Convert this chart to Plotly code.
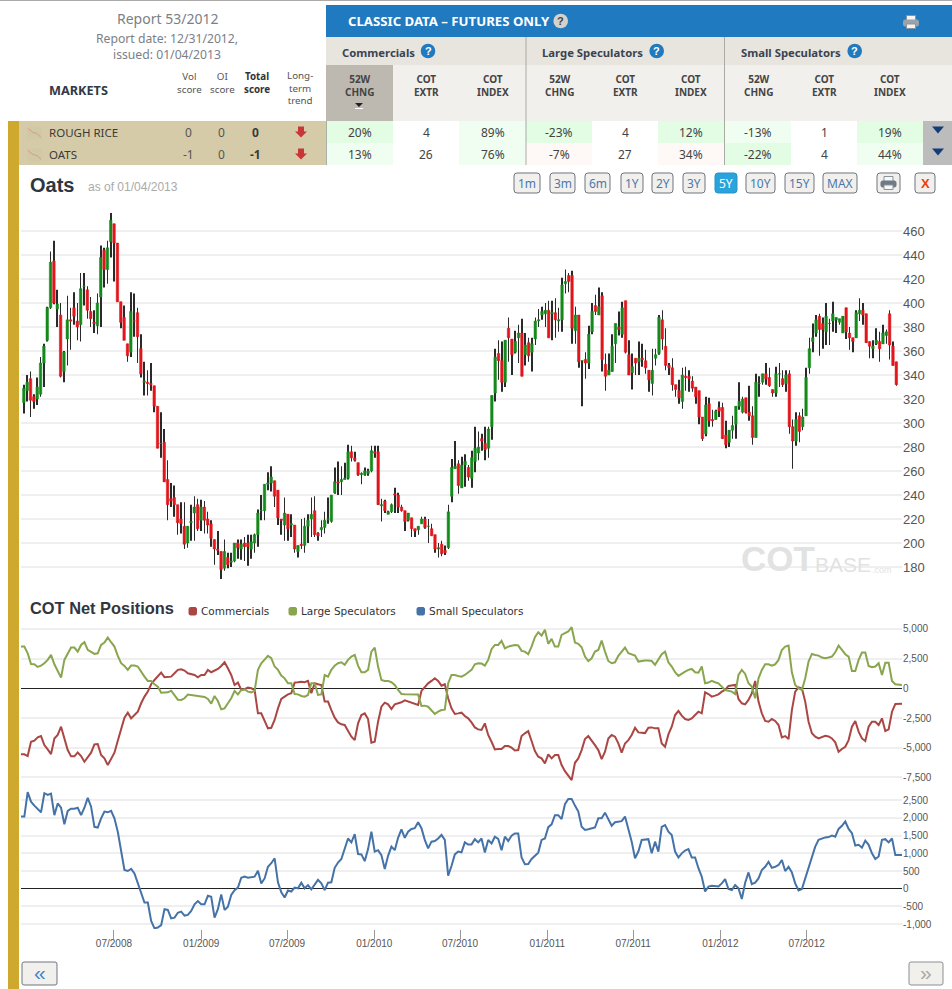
import numpy as np
import pandas as pd
import plotly.graph_objects as go

W, H = 952, 989

# weekly oats candles
candle_open = [
    317,327,337,322,320,324,350,369,396,435, 395,390,343,370,386,396,385,382,414,411,
    393,384,381,405,444,428,451,466,450,401, 388,366,359,385,392,362,334,334,333,331,
    314,283,284,253,237,238,232,220,214,200, 217,225,232,219,230,220,216,203,195,193,
    179,188,184,185,200,195,200,200,195,200, 207,227,227,249,250,252,244,220,215,224,
    215,215,193,199,198,214,220,227,208,211, 213,220,218,242,251,251,253,254,276,271,
    267,257,257,258,260,276,276,231,235,224, 226,241,240,230,227,219,221,212,211,216,
    220,214,212,207,195,199,194,196,239,262, 266,246,265,263,254,268,275,287,283,279,
    297,325,358,352,334,379,370,359,371,375, 357,367,359,370,385,390,391,394,391,392,
    385,386,416,423,423,377,390,352,353,350, 376,398,390,406,349,340,343,366,380,374,
    402,357,342,354,351,354,352,344,333,354, 358,386,364,348,346,332,327,318,339,339,
    335,330,327,305,291,316,303,303,313,313, 290,284,294,299,314,309,321,309,306,288,
    333,334,341,338,328,325,341,337,333,341, 297,285,306,297,306,346,368,375,389,383,
    376,383,385,386,384,375,396,375,371,371, 391,394,391,368,362,366,368,366,373,391,364,351,
]
candle_high = [
    332,340,343,324,338,355,366,397,443,452, 411,400,360,406,396,409,400,425,425,414,
    405,394,408,448,446,452,475,466,450,401, 398,366,409,408,396,374,351,344,350,331,
    314,309,295,269,250,248,232,234,234,214, 232,239,237,236,235,226,219,203,210,193,
    203,192,192,200,203,203,205,207,207,208, 228,240,249,259,264,252,244,220,238,224,
    224,215,198,220,221,224,238,239,209,219, 226,238,240,263,268,264,267,282,281,276,
    267,259,263,262,281,281,281,237,236,227, 233,246,242,232,227,225,221,212,214,222,
    222,220,216,207,200,202,198,232,270,285, 269,272,274,265,277,297,293,291,297,297,
    323,362,369,368,369,388,370,377,382,387, 375,371,371,388,395,397,400,402,402,404,
    396,421,428,425,427,397,390,352,359,381, 400,407,413,409,358,358,374,383,393,401,
    402,369,358,354,368,366,361,344,362,362, 390,394,379,350,354,332,336,346,347,344,
    339,330,327,305,322,321,311,311,318,317, 302,294,306,314,334,322,321,331,314,341,
    339,341,350,346,328,347,350,344,344,344, 303,309,309,312,346,371,383,390,391,388,
    400,387,401,388,387,389,396,380,371,394, 404,400,391,368,369,379,376,382,378,394,368,351,
]
candle_low = [
    308,318,305,312,315,322,330,368,395,399, 380,338,334,348,361,382,369,368,398,387,
    380,375,374,380,413,416,438,418,401,379, 369,351,355,372,350,338,323,323,327,309,
    279,271,251,219,230,222,207,208,195,196, 202,202,210,210,208,208,197,182,190,170,
    177,179,180,184,187,186,185,181,187,192, 197,219,219,244,243,230,215,207,202,202,
    205,192,188,195,192,200,205,205,202,205, 208,216,217,241,240,240,253,253,268,268,
    256,249,256,256,259,271,232,218,225,224, 225,225,225,226,210,218,205,205,207,216,
    212,200,206,192,188,189,190,195,234,262, 241,246,247,252,246,259,269,277,269,271,
    286,318,336,326,330,351,340,358,350,339, 348,351,343,365,380,386,380,371,369,371,
    376,376,408,409,366,366,346,314,337,345, 374,390,390,343,327,340,343,350,373,371,
    358,340,328,340,340,347,341,326,323,348, 357,361,344,340,327,322,316,312,327,326,
    326,316,299,285,289,297,297,303,305,287, 279,280,287,287,311,308,308,302,282,288,
    322,332,332,330,322,322,330,330,326,291, 262,281,284,294,306,341,359,372,356,362,
    365,365,376,375,382,375,370,361,359,371, 385,382,367,354,354,365,351,366,366,353,348,331,
]
candle_close = [
    329,334,319,318,330,350,364,396,434,400, 399,339,359,386,385,389,380,412,414,394,
    387,383,400,438,428,446,469,450,401,384, 369,356,393,385,372,341,335,333,332,314,
    279,283,251,232,235,232,217,216,199,214, 218,230,212,230,219,215,204,195,194,178,
    193,182,185,200,196,199,197,197,201,207, 225,227,249,250,255,239,221,219,225,212,
    216,195,198,198,214,219,224,207,206,213, 219,220,240,251,250,253,254,276,271,269,
    257,258,260,260,277,275,232,232,227,226, 232,240,230,227,218,225,212,210,214,220,
    213,214,206,195,196,191,192,226,263,264, 248,265,268,255,271,279,280,285,278,295,
    323,355,352,334,369,371,357,368,375,339, 365,356,366,385,386,393,394,371,392,386,
    386,415,418,418,379,390,351,352,350,374, 393,393,397,353,339,344,364,383,378,396,
    359,340,347,350,354,353,346,336,344,357, 388,370,348,346,332,328,321,340,338,337,
    329,322,305,287,315,302,302,310,310,287, 282,294,298,314,318,320,309,306,288,334,
    333,341,337,331,325,341,341,332,340,297, 285,303,293,305,338,362,371,386,378,378,
    389,383,391,388,387,389,376,371,368,392, 394,390,367,364,364,369,362,375,376,365,348,332,
]

# COT net positions, one value a week
commercials = [
    -5560,-5560,-5700,-4500,-4410,-4130,-4020,-4780,-5140,-5540,-4220,-3930,-3230,-4220,-5200,-5730,-5730,-5400,-5700,-6180,
    -5760,-5420,-4720,-4690,-5620,-5900,-6460,-5990,-5420,-4410,-3460,-2470,-2050,-2530,-2250,-1970,-1260,-700,-280,340,
    700,1040,1320,930,930,980,1260,1550,1600,1490,1260,1210,1120,930,1120,1120,1550,1350,1460,1630,
    1880,2190,1690,1120,280,480,-140,-80,60,0,-140,-2110,-2110,-2750,-3370,-3320,-2670,-1690,-900,-700,
    -510,-420,480,510,560,510,620,-420,420,340,280,-1120,-1120,-1830,-2470,-2870,-3030,-3090,-3650,-4070,
    -4360,-2950,-2250,-2110,-2590,-4580,-4500,-2810,-1550,-1210,-1350,-1740,-1350,-1260,-1180,-1010,-1120,-1180,-1290,-1410,
    -220,140,420,620,840,620,220,340,-840,-1690,-2160,-2110,-2050,-2330,-2530,-2870,-3290,-3460,
    -3510,-2950,-3930,-4500,-5140,-5110,-5110,-4860,-4860,-5000,-5230,-5200,-4020,-3790,-3600,-4440,-5280,-5760,-5900,-6320,
    -5560,-5900,-5620,-5620,-6460,-6970,-7310,-7730,-6270,-5900,-5200,-4270,-4020,-4360,-4780,-5200,-5960,-5340,-4220,-3930,
    -4070,-4640,-5420,-4640,-4360,-3930,-3320,-3710,-3740,-3770,-3320,-3290,-3370,-3370,-4640,-4920,-3880,-3230,-2250,-1910,
    -2300,-2590,-2670,-2530,-2250,-1970,-2110,-340,-480,-700,-620,-510,-280,-140,200,250,280,-900,-1260,-1350,
    -980,-420,620,-1120,-2110,-2750,-2810,-2590,-2750,-3090,-4130,-4020,-4270,-1830,-280,80,0,-1120,-2810,-3790,
    -4070,-4220,-4070,-3990,-4050,-4220,-4550,-5340,-5110,-4920,-4360,-3230,-2750,-3650,-4220,-4440,-3230,-2810,-2810,-3090,
    -2530,-3600,-3460,-1970,-1320,-1290,-1290,
]
large_speculators = [
    3510,3510,2950,2050,2020,1800,1910,2110,2390,2810,2020,1460,900,2390,2950,3430,3430,3090,3650,3880,
    3230,3030,2890,2950,3650,3850,4270,3880,3510,2730,2110,1880,1550,1910,1910,1830,1350,980,620,620,
    340,140,-370,-370,-340,-200,-560,-960,-980,-840,-530,-560,-590,-620,-650,-730,-900,-1290,-650,-1070,
    -1770,-1690,-1260,-840,-220,-510,-140,-80,-280,-340,-220,1550,2110,2440,2730,2530,1830,1550,1070,840,
    420,420,-480,-510,-650,-700,-560,420,420,-560,-510,1120,980,1550,1910,2110,2190,1970,2390,2670,
    2810,1910,1350,1350,1550,3090,3430,1830,700,620,620,510,280,-140,-480,-510,-530,-530,-530,-530,
    -1490,-1460,-1550,-1830,-2160,-1970,-1830,-1800,420,1120,1120,1040,980,1120,1350,1550,2020,2110,
    2080,1910,2390,3290,3650,3650,3990,3370,3510,3570,3650,3600,3150,3090,2870,3510,4300,4720,4440,4920,
    3740,4160,3510,3510,4500,4640,4780,5140,3850,3740,3460,2670,2300,2530,3090,3230,4020,3090,2300,2110,
    2190,2730,3090,3430,2950,2870,2750,2250,2300,2330,2330,2300,1970,2390,2870,3090,2190,1830,1350,1040,
    1260,1410,1550,1630,1350,1320,1830,420,480,620,510,420,140,-140,-200,-280,-480,1120,1550,1210,
    420,140,-840,840,1550,2020,2020,1910,2020,2390,3230,3510,3600,1350,280,0,-140,840,2250,2890,
    2810,2750,2590,2530,2590,2670,3030,3600,3230,2870,2670,1460,1460,2390,3010,3010,1880,1770,1830,2110,
    1120,2160,2160,620,340,280,280,
]
small_speculators = [
    2040,2040,2730,2460,2350,2250,2160,2700,2650,2690,2080,2410,2290,1820,2200,2260,2260,2290,2080,2290,
    2570,2320,1750,1730,1990,2180,2160,2200,1990,1610,1050,530,500,560,430,150,-130,-390,-390,-910,
    -1120,-1100,-1030,-580,-600,-840,-820,-680,-650,-760,-740,-630,-440,-350,-440,-440,-200,-230,-820,-580,
    -160,-600,-510,-180,-40,30,310,340,310,330,340,510,150,290,620,720,860,180,-100,-250,
    -50,-80,30,10,170,10,100,-20,120,250,150,-40,170,180,590,740,840,1140,1420,1310,
    1540,980,970,780,1120,1610,1050,1090,950,560,930,1190,1090,1440,1680,1440,1610,1690,1710,1880,
    1710,1380,1140,1330,1350,1420,1520,1380,370,640,970,1050,1030,1310,1250,1250,1400,1310,
    1420,1020,1380,1280,1470,1410,1090,1470,1350,1500,1560,1560,880,690,700,840,930,1020,1380,1420,
    1740,1820,2080,2080,1970,2390,2540,2540,2350,2180,1750,1660,1680,1700,1730,1990,1990,2150,1940,1780,
    1880,1890,1910,2040,1710,1330,860,1050,1380,1400,1400,1000,1330,1050,1750,1800,1610,1520,1050,880,
    1000,1080,1120,880,880,580,340,-80,60,80,80,60,150,270,-10,-40,100,10,-290,170,
    460,130,170,290,530,620,760,590,620,670,810,500,620,460,150,-50,-10,290,580,840,
    1190,1380,1420,1450,1460,1500,1470,1690,1780,1900,1690,1570,1220,1240,1160,1360,1240,1000,840,910,
    1380,1400,1310,1420,950,950,950,
]

price_ticks = list(range(180, 480, 20))
net_ticks = [5000, 2500, 0, -2500, -5000, -7500]
net_labels = ["5,000", "2,500", "0", "-2,500", "-5,000", "-7,500"]
small_ticks = [2500, 2000, 1500, 1000, 500, 0, -500, -1000]
small_labels = ["2,500", "2,000", "1,500", "1,000", "500", "0", "-500", "-1,000"]
date_ticks = ["2008-07-01", "2009-01-01", "2009-07-01", "2010-01-01", "2010-07-01",
              "2011-01-01", "2011-07-01", "2012-01-01", "2012-07-01"]
date_labels = ["07/2008", "01/2009", "07/2009", "01/2010", "07/2010",
               "01/2011", "07/2011", "01/2012", "07/2012"]

market_names = ["ROUGH RICE", "OATS"]
vol_scores = ["0", "-1"]
oi_scores = ["0", "0"]
total_scores = ["0", "-1"]
rice_cells = ["20%", "4", "89%", "-23%", "4", "12%", "-13%", "1", "19%"]
oats_cells = ["13%", "26", "76%", "-7%", "27", "34%", "-22%", "4", "44%"]
group_names = ["Commercials", "Large Speculators", "Small Speculators"]
range_names = ["1m", "3m", "6m", "1Y", "2Y", "3Y", "5Y", "10Y", "15Y", "MAX"]

candle_dates = pd.date_range("2007-12-24", "2013-01-06", periods=len(candle_open))
line_dates = pd.date_range("2007-12-18", "2013-01-18", periods=len(commercials))
x_range = ["2007-12-18", "2013-01-18"]

TABLE_FONT = "Noto Sans"
ARIAL = "Liberation Sans"
BLUE = "#1f7abf"
TICK_GREY = "#555555"
GRID = "#efefef"
WICK_MS = 1.2 * 24 * 3600 * 1000  # under 1px on this date axis, bars snap to whole pixels


def px(x):
    return x / W


def py(y):
    return 1 - y / H


def rect(x0, y0, x1, y1, fill, line=None, lw=1):
    fig.add_shape(type="rect", xref="paper", yref="paper", x0=px(x0), x1=px(x1), y0=py(y0), y1=py(y1),
                  fillcolor=fill, line=dict(color=line or fill, width=lw if line else 0))


def poly(points, fill, line=None, lw=1):
    path = "M " + " L ".join(f"{px(a):.5f},{py(b):.5f}" for a, b in points) + (" Z" if fill else "")
    fig.add_shape(type="path", xref="paper", yref="paper", path=path, fillcolor=fill or "rgba(0,0,0,0)",
                  line=dict(color=line or fill, width=lw if line else 0))


def rounded(x0, y0, x1, y1, r, fill, line):
    a, b, c, d = px(x0), py(y0), px(x1), py(y1)
    rx, ry = r / W, r / H
    path = (f"M {a+rx:.5f},{b:.5f} L {c-rx:.5f},{b:.5f} Q {c:.5f},{b:.5f} {c:.5f},{b-ry:.5f} "
            f"L {c:.5f},{d+ry:.5f} Q {c:.5f},{d:.5f} {c-rx:.5f},{d:.5f} L {a+rx:.5f},{d:.5f} "
            f"Q {a:.5f},{d:.5f} {a:.5f},{d+ry:.5f} L {a:.5f},{b-ry:.5f} Q {a:.5f},{b:.5f} {a+rx:.5f},{b:.5f} Z")
    fig.add_shape(type="path", xref="paper", yref="paper", path=path, fillcolor=fill,
                  line=dict(color=line, width=1))


def circle(cx, cy, r, fill):
    fig.add_shape(type="circle", xref="paper", yref="paper", x0=px(cx - r), x1=px(cx + r),
                  y0=py(cy + r), y1=py(cy - r), fillcolor=fill, line=dict(width=0))


def label(text, x, y, size, color="#444444", family=TABLE_FONT, anchor="center", bold=False):
    fig.add_annotation(text=f"<b>{text}</b>" if bold else text, x=px(x), y=py(y), xref="paper", yref="paper",
                       showarrow=False, xanchor=anchor, yanchor="middle", borderpad=0, borderwidth=0,
                       font=dict(size=size, color=color, family=family))


def help_icon(cx, cy, fill=BLUE, color="white"):
    circle(cx, cy, 7.3, fill)
    label("?", cx, cy, 11, color, ARIAL, bold=True)


def print_icon(cx, cy, body="#6f7a84", paper="white"):
    rect(cx - 4.5, cy - 6.5, cx + 4.5, cy - 1, paper, "#8a939b")
    rounded(cx - 7.5, cy - 2, cx + 7.5, cy + 4, 1.5, body, body)
    rect(cx - 4.5, cy + 2, cx + 4.5, cy + 6.5, paper, "#8a939b")


fig = go.Figure()

# wicks as thin bars, the bars layer sits under the candle bodies
fig.add_trace(go.Bar(x=candle_dates, y=np.array(candle_high) - np.array(candle_low), base=candle_low,
                     width=WICK_MS, marker=dict(color="#2a2a2a", line=dict(width=0)),
                     hoverinfo="skip", showlegend=False, xaxis="x", yaxis="y"))
fig.add_trace(go.Candlestick(x=candle_dates, open=candle_open, close=candle_close,
                             high=np.maximum(candle_open, candle_close), low=np.minimum(candle_open, candle_close),
                             increasing=dict(line=dict(color="#148a1c", width=0.5), fillcolor="#148a1c"),
                             decreasing=dict(line=dict(color="#e0161c", width=0.5), fillcolor="#e0161c"),
                             whiskerwidth=0, showlegend=False, xaxis="x", yaxis="y"))

fig.add_trace(go.Scatter(x=line_dates, y=commercials, mode="lines", name="Commercials",
                         line=dict(color="#AA4643", width=2), xaxis="x2", yaxis="y2", showlegend=False))
fig.add_trace(go.Scatter(x=line_dates, y=large_speculators, mode="lines", name="Large Speculators",
                         line=dict(color="#89A54E", width=2), xaxis="x2", yaxis="y2", showlegend=False))
fig.add_trace(go.Scatter(x=line_dates, y=small_speculators, mode="lines", name="Small Speculators",
                         line=dict(color="#4572A7", width=2), xaxis="x3", yaxis="y3", showlegend=False))


def y_dom(top, bottom):
    return [1 - bottom / H, 1 - top / H]


x_dom = [21 / W, 902 / W]
hidden_x = dict(domain=x_dom, range=x_range, type="date", showgrid=False, showticklabels=False,
                zeroline=False, ticks="", rangeslider=dict(visible=False))
fig.update_layout(
    width=W, height=H, autosize=False, margin=dict(l=0, r=0, t=0, b=0), paper_bgcolor="white",
    plot_bgcolor="white", boxgap=0.25, boxgroupgap=0, barmode="overlay", showlegend=False, hovermode=False,
    xaxis=dict(hidden_x, anchor="y"),
    xaxis2=dict(hidden_x, anchor="y2"),
    xaxis3=dict(domain=x_dom, range=x_range, type="date", anchor="y3", showgrid=False, zeroline=False,
                tickvals=date_ticks, ticktext=date_labels, ticks="outside", ticklen=9, tickwidth=1,
                ticklabelstandoff=-4, tickcolor="#999999", tickfont=dict(size=10, color=TICK_GREY, family=ARIAL)),
    yaxis=dict(domain=y_dom(205, 580), range=[169.2, 481.7], side="right", anchor="x", tickvals=price_ticks,
               gridcolor=GRID, gridwidth=1.5, zeroline=False, tickfont=dict(size=13, color=TICK_GREY, family=ARIAL)),
    yaxis2=dict(domain=y_dom(622, 782), range=[-7887, 5581], side="right", anchor="x2", tickvals=net_ticks,
                ticktext=net_labels, gridcolor=GRID, gridwidth=1.5, zeroline=True, zerolinecolor="#222222",
                zerolinewidth=1, tickfont=dict(size=10, color=TICK_GREY, family=ARIAL)),
    yaxis3=dict(domain=y_dom(790, 929), range=[-1140, 2791], side="right", anchor="x3", tickvals=small_ticks,
                ticktext=small_labels, gridcolor=GRID, gridwidth=1.5, zeroline=True, zerolinecolor="#222222",
                zerolinewidth=1, tickfont=dict(size=10, color=TICK_GREY, family=ARIAL)),
)

# page furniture
rect(0, 0, W, 1, "#aaaaaa")
rect(8, 121, 19, H, "#cfa82e")
rect(19, 121, 326, 165, "#d6cba8")
rect(326, 5, W, 37, BLUE)
rect(326, 37, W, 65, "#e8e5df")
rect(326, 65, W, 121, "#f2f0ec")
rect(326, 65, 393, 121, "#bdb9b1")

label("Report 53/2012", 167, 18, 14, "#7b8087")
label("Report date: 12/31/2012,", 167, 38.5, 12.2, "#7b8087")
label("issued: 01/04/2013", 167, 54, 12.2, "#7b8087")
label("MARKETS", 78, 90, 12.7, "#333a44", bold=True)
label("Vol<br>score", 189, 83, 9.8, "#555555")
label("OI<br>score", 222, 83, 9.8, "#555555")
label("Total<br>score", 257, 83, 9.8, "#333333", bold=True)
label("Long-<br>term<br>trend", 300, 88, 9.8, "#555555")

label("CLASSIC DATA – FUTURES ONLY", 348, 21.5, 13.2, "white", bold=True, anchor="left")
help_icon(560.7, 21, "#d4d2cc", "#444444")
print_icon(911, 22, "#9aa3ab", "#f4f4f4")

group_left = [342, 542, 741]
group_help = [428, 656.7, 854.7]
for name, x0, xh in zip(group_names, group_left, group_help):
    label(name, x0, 52.5, 11.3, "#3a4450", anchor="left", bold=True)
    help_icon(xh, 51)

col_centers = [359.5, 426, 492.5, 559, 625, 691, 758, 824, 890]
col_edges = [326, 393, 459, 526, 592, 658, 725, 791, 857, 923]
col_heads = ["52W<br>CHNG", "COT<br>EXTR", "COT<br>INDEX"] * 3
for head, cx in zip(col_heads, col_centers):
    label(head, cx, 85.5, 10, "#444444", bold=True)
poly([(355, 103), (363, 103), (359, 107)], "#222222")
rect(355, 108, 363, 109, "white")

rice_fill = ["#e2fde4", "white", "#f0fef1", "#e2fde4", "white", "#e2fde4", "#f0fef1", "white", "#e2fde4"]
oats_fill = ["#f0fef1", "white", "#f0fef1", "#fef8f7", "white", "#fef8f7", "#e2fde4", "white", "#f0fef1"]
row_tops = [121, 143, 165]
for r, (cells, fills) in enumerate([(rice_cells, rice_fill), (oats_cells, oats_fill)]):
    cy = row_tops[r] + 11.5
    for i, (cell, fill, cx) in enumerate(zip(cells, fills, col_centers)):
        rect(col_edges[i], row_tops[r], col_edges[i + 1], row_tops[r + 1], fill)
        label(cell, cx, cy, 12, "#444444")
    rect(923, row_tops[r], W, row_tops[r + 1], "#bcbcbc")
    poly([(932, cy - 6), (944, cy - 6), (938, cy + 1)], "#143c78")
    # mini chart icon, market name, scores and trend arrow
    rect(27, cy - 6, 42, cy + 7, "#d0c9a6")
    poly([(28, cy - 4), (33, cy), (37, cy + 1), (41, cy + 5)], None, "#d89a88", 1)
    label(market_names[r], 49, cy, 11.5, "#3b3b36", anchor="left")
    label(vol_scores[r], 188.5, cy, 12, "#555550")
    label(oi_scores[r], 221.5, cy, 12, "#555550")
    label(total_scores[r], 255, cy, 12, "#3b3b36", bold=True)
    poly([(298, cy - 6), (304, cy - 6), (304, cy - 1), (307, cy - 1), (301, cy + 5), (295, cy - 1), (298, cy - 1)],
         "#c8363a")

for x_line in [526, 724.5]:
    rect(x_line - 0.5, 37, x_line + 0.5, 165, "#aaaaa6")
rect(326, 121, 327, 165, "#a9b0a6")

# chart headers and the range buttons
label("Oats", 30, 185, 20, "#2f3640", ARIAL, anchor="left", bold=True)
label("as of 01/04/2013", 88, 187, 12, "#aaaaaa", ARIAL, anchor="left")
range_left = [514, 550, 585, 621, 652, 683, 715, 746, 785, 823]
range_right = [540, 575, 610, 643, 673, 705, 737, 775, 814, 857]
for name, x0, x1 in zip(range_names, range_left, range_right):
    active = name == "5Y"
    rounded(x0, 173, x1, 193, 3, "#29a3dc" if active else "#f2f0ec", "#2a93c6" if active else "#6e7680")
    label(name, (x0 + x1) / 2, 183, 12, "white" if active else "#4a78ac")
rounded(877, 173, 900, 193, 3, "#f2f0ec", "#6e7680")
print_icon(888.5, 183, "#6f7a84", "#f8f8f8")
rounded(915, 173, 935, 193, 3, "#f2f0ec", "#6e7680")
label("X", 925, 183, 13, "#f03a10", ARIAL, bold=True)

label("COT Net Positions", 30, 608, 16.4, "#2f3640", ARIAL, anchor="left", bold=True)
legend_x = [189, 289, 417]
legend_colors = ["#AA4643", "#89A54E", "#4572A7"]
for name, x0, color in zip(group_names, legend_x, legend_colors):
    rounded(x0, 607.5, x0 + 7.5, 615, 1.5, color, color)
    label(name, x0 + 11.5, 611, 10.5, "#333333", "DejaVu Sans", anchor="left")

# watermark
label("COT", 741, 558, 35, "#e2e2e2", ARIAL, anchor="left", bold=True)
label("BASE", 815, 564, 21, "#e2e2e2", ARIAL, anchor="left")
label(".com", 872, 570, 9, "#e2e2e2", ARIAL, anchor="left")

# paging buttons
rounded(22, 962, 57, 985, 2, "#f2f0ec", "#6e7680")
label("«", 39.5, 972, 21, "#3f86c4", ARIAL)
rounded(909, 962, 943, 985, 2, "#f2f0ec", "#8a8f94")
label("»", 926, 972, 21, "#a8a8a0", ARIAL)

# the browser's default body margin would push the fixed-size figure off the page
fig.write_html("out.html", config={"displayModeBar": False},
               post_script="document.body.style.margin='0';")
